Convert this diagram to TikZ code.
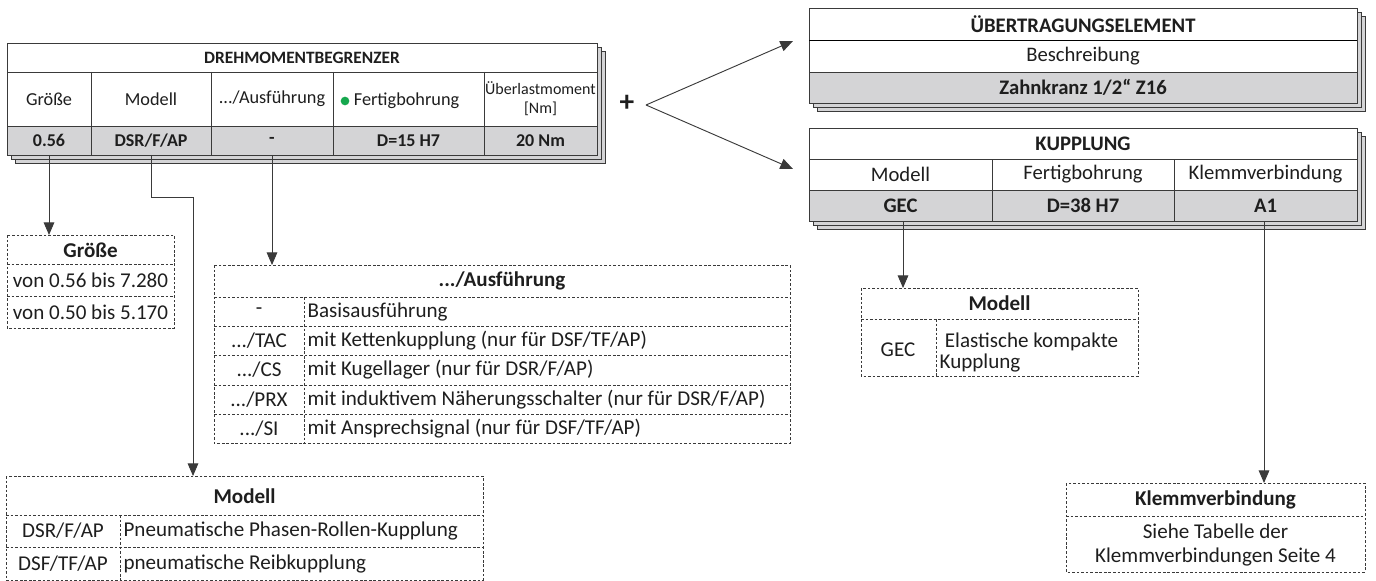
\documentclass[tikz,border=0pt]{standalone}
\usepackage{fontspec}
\setmainfont{Carlito}
\usetikzlibrary{calc,arrows.meta}
\definecolor{rowgray}{HTML}{D4D4D6}
\definecolor{edge}{HTML}{3A3A3A}
\definecolor{ink}{HTML}{1E1E1E}
\definecolor{dotgreen}{HTML}{16A84E}
\tikzset{>={Triangle[length=9.5pt,width=8pt]}}
\tikzset{
  frame/.style={draw=edge,line width=.7pt},
  dashbox/.style={draw=edge,line width=.6pt,dash pattern=on 2pt off 1.4pt},
  link/.style={draw=edge,line width=.7pt,->},
  txt/.style={text=ink,inner sep=1pt,font=\fontsize{15.8}{16}\selectfont},
  txtb/.style={txt,font=\fontsize{15.8}{16}\selectfont\bfseries},
  cell/.style={text=ink,inner sep=1pt,font=\fontsize{13.7}{15}\selectfont},
  cellb/.style={cell,font=\fontsize{13.5}{15}\selectfont\bfseries},
  rcell/.style={text=ink,inner sep=1pt,font=\fontsize{15.5}{17}\selectfont},
  rcellb/.style={rcell,font=\fontsize{15.5}{17}\selectfont\bfseries},
}

\begin{document}
\begin{tikzpicture}[x=.75pt,y=-.75pt]
\useasboundingbox (0,0) rectangle (1376,581);

% Drehmomentbegrenzer
\foreach \d in {8,4}
  \draw[frame,fill=rowgray] (7+\d,43+\d) rectangle (597+\d,155+\d);
\draw[frame,fill=white] (7,43) rectangle (597,126);
\draw[frame,fill=rowgray] (7,126) rectangle (597,155);
\draw[frame] (7,72) -- (597,72);
\foreach \x in {91,211,333,484} \draw[frame] (\x,72) -- (\x,155);
\node[cellb,font=\fontsize{13}{15}\selectfont\bfseries] (dmb) at (302,57.5) {DREHMOMENTBEGRENZER};
\node[cell] (hgr) at (49,99) {Größe};
\node[cell] (hmo) at (151,99) {Modell};
\node[cell] (hau) at (272,99) {.../Ausführung};
\node[circle,fill=dotgreen,inner sep=0pt,minimum size=6.5pt] (dot) at (345,101) {};
\node[cell,anchor=west,xshift=2pt] (hfb) at (dot.east) {Fertigbohrung};
\node[cell,align=center,font=\fontsize{12}{14}\selectfont] (hul) at (540.5,99) {Überlastmoment\\{}[Nm]};
\node[cellb] (vgr) at (49,140.5) {0.56};
\node[cellb] (vmo) at (151,140.5) {DSR/F/AP};
\node[cellb] (vau) at (272,140.5) {-};
\node[cellb] (vfb) at (408.5,140.5) {D=15 H7};
\node[cellb] (vul) at (540.5,140.5) {20 Nm};
\coordinate (sgr) at (49,155);
\coordinate (smo) at (151,155);
\coordinate (sau) at (272,155);

\node[font=\fontsize{22}{22}\selectfont\bfseries,text=ink] (plus) at (627,103) {+};
\coordinate (fork) at (646,105);

% Größe
\draw[dashbox] (7,235) rectangle (174,328);
\draw[dashbox] (7,264) -- (174,264) (7,296) -- (174,296);
\coordinate (tgr) at (49,235);
\node[txtb] (ggr) at (90.5,250) {Größe};
\node[txt] (g1) at (90.5,280.5) {von 0.56 bis 7.280};
\node[txt] (g2) at (90.5,312.5) {von 0.50 bis 5.170};

% .../Ausführung
\draw[dashbox] (214,265) rectangle (790,443);
\foreach \y in {297,326,355,385,414} \draw[dashbox] (214,\y) -- (790,\y);
\draw[dashbox] (304,297) -- (304,443);
\coordinate (tau) at (272,265);
\node[txtb] (gau) at (502,281) {.../Ausführung};
\node[txt] (a1) at (259,311.5) {-};
\node[txt] (a2) at (259,340.5) {.../TAC};
\node[txt] (a3) at (259,370) {.../CS};
\node[txt] (a4) at (259,399.5) {.../PRX};
\node[txt] (a5) at (259,428.5) {.../SI};
\node[txt,anchor=west] (b1) at (306,311.5) {Basisausführung};
\node[txt,anchor=west] (b2) at (306,340.5) {mit Kettenkupplung (nur für DSF/TF/AP)};
\node[txt,anchor=west] (b3) at (306,370) {mit Kugellager (nur für DSR/F/AP)};
\node[txt,anchor=west] (b4) at (306,399.5) {mit induktivem Näherungsschalter (nur für DSR/F/AP)};
\node[txt,anchor=west] (b5) at (306,428.5) {mit Ansprechsignal (nur für DSF/TF/AP)};

% Modell
\draw[dashbox] (6,476) rectangle (483,580);
\draw[dashbox] (6,515) -- (483,515) (6,547) -- (483,547);
\draw[dashbox] (120,515) -- (120,580);
\coordinate (tmo) at (193,476);
\node[txtb] (gmo) at (244.5,496) {Modell};
\node[txt] (m1) at (63,531) {DSR/F/AP};
\node[txt] (m2) at (63,563.5) {DSF/TF/AP};
\node[txt,anchor=west] (n1) at (122,531) {Pneumatische Phasen-Rollen-Kupplung};
\node[txt,anchor=west] (n2) at (122,563.5) {pneumatische Reibkupplung};

% Übertragungselement
\foreach \d in {8,4}
  \draw[frame,fill=rowgray] (809+\d,8+\d) rectangle (1357+\d,103+\d);
\draw[frame,fill=white] (809,8) rectangle (1357,72);
\draw[frame,fill=rowgray] (809,72) rectangle (1357,103);
\draw[frame,draw=black] (809,40) -- (1357,40);
\coordinate (iue) at (793,41);
\node[rcellb] (ue) at (1083,24) {ÜBERTRAGUNGSELEMENT};
\node[rcell] (ub) at (1083,56) {Beschreibung};
\node[rcellb] (uz) at (1083,87.5) {Zahnkranz 1/2“ Z16};

% Kupplung
\foreach \d in {8,4}
  \draw[frame,fill=rowgray] (809+\d,128+\d) rectangle (1357+\d,221+\d);
\draw[frame,fill=white] (809,128) rectangle (1357,190);
\draw[frame,fill=rowgray] (809,190) rectangle (1357,221);
\draw[frame] (809,159) -- (1357,159);
\foreach \x in {992,1174} \draw[frame] (\x,159) -- (\x,221);
\coordinate (iku) at (793,169);
\node[rcellb] (ku) at (1083,143.5) {KUPPLUNG};
\node[rcell] (kmo) at (900.5,174.5) {Modell};
\node[rcell] (kfb) at (1083,174.5) {Fertigbohrung};
\node[rcell] (kkv) at (1265.5,174.5) {Klemmverbindung};
\node[rcellb] (kgec) at (900.5,205.5) {GEC};
\node[rcellb] (kd) at (1083,205.5) {D=38 H7};
\node[rcellb] (ka) at (1265.5,205.5) {A1};
\coordinate (sgec) at (903,221);
\coordinate (sa) at (1264,221);

% Modell GEC
\draw[dashbox] (861,288) rectangle (1138,376);
\draw[dashbox] (861,319) -- (1138,319);
\draw[dashbox] (936,319) -- (936,376);
\coordinate (tgec) at (903,288);
\node[txtb] (ggec) at (999.5,303.5) {Modell};
\node[txt] (e1) at (898,350) {GEC};
\node[txt,anchor=west,align=left] (e2) at (938,352.5) {\hspace{4pt}Elastische kompakte\\Kupplung};

% Klemmverbindung
\draw[dashbox] (1066,483) rectangle (1365,572);
\draw[dashbox] (1066,516) -- (1365,516);
\coordinate (ta) at (1264,483);
\node[txtb] (gkv) at (1215.5,500) {Klemmverbindung};
\node[txt,align=center,font=\fontsize{15.8}{18}\selectfont] (kv) at (1215.5,545) {Siehe Tabelle der\\Klemmverbindungen Seite 4};

% Verbindungen
\draw[link] (sgr) -- (tgr);
\draw[link] (smo) -- ++(0,42) -| (tmo);
\draw[link] (sau) -- (tau);
\draw[link] (fork) -- (iue);
\draw[link] (fork) -- (iku);
\draw[link] (sgec) -- (tgec);
\draw[link] (sa) -- (ta);
\end{tikzpicture}
\end{document}
